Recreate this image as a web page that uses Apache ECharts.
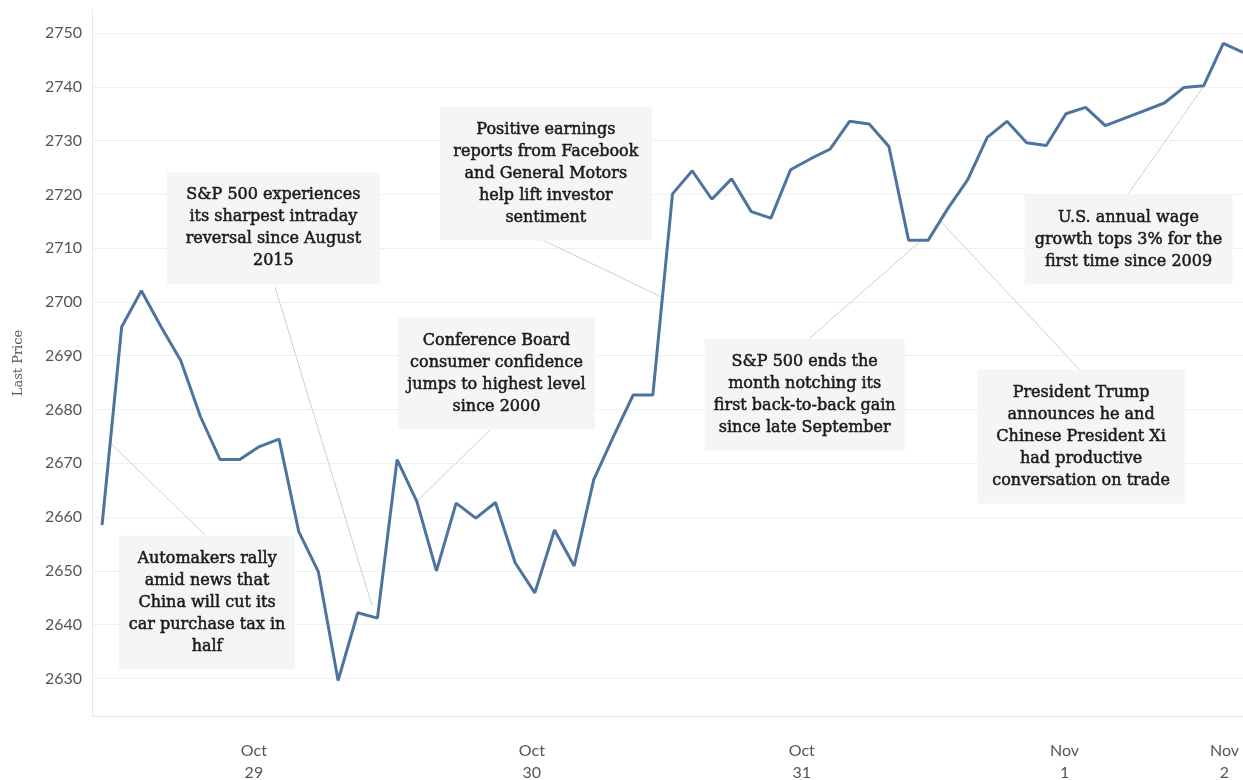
<!DOCTYPE html>
<html>
<head>
    <meta charset="utf-8">
    <script src="https://cdn.jsdelivr.net/npm/echarts@6/dist/echarts.min.js"></script>
    <style>
        html, body { margin: 0; padding: 0; background: #fff; }
        #main { width: 1243px; height: 780px; }
    </style>
</head>
<body>
    <div id="main"></div>
    <script>
        // S&P 500 last price, half-hourly points, Oct 29 - Nov 2
        var prices = [
            2658.5, 2695.4, 2702.1, 2695.4, 2689.1, 2678.7, 2670.7, 2670.7, 2673.1, 2674.5,
            2657.3, 2649.8, 2629.6, 2642.2, 2641.2, 2670.7, 2662.9, 2650.0, 2662.6, 2659.8,
            2662.7, 2651.5, 2645.9, 2657.6, 2650.9, 2667.0, 2675.0, 2682.7, 2682.7, 2720.1,
            2724.4, 2719.1, 2722.9, 2716.8, 2715.6, 2724.6, 2726.6, 2728.4, 2733.6, 2733.1,
            2728.9, 2711.5, 2711.5, 2717.4, 2722.7, 2730.6, 2733.6, 2729.6, 2729.1, 2735.0,
            2736.2, 2732.8, 2734.2, 2735.6, 2737.0, 2739.9, 2740.2, 2748.1, 2746.4
        ];
        var dayLabels = ['Oct\n29', 'Oct\n30', 'Oct\n31', 'Nov\n1', 'Nov\n2'];
        var dayLabelPos = [7.72, 21.85, 35.57, 48.93, 57.06];
        var priceTicks = [2630, 2640, 2650, 2660, 2670, 2680, 2690, 2700, 2710, 2720, 2730, 2740, 2750];

        // annotation boxes: centre [index, price], leader from box to line
        var notes = [
            { text: 'Automakers rally\namid news that\nChina will cut its\ncar purchase tax in\nhalf',
              at: [5.34, 2644.1], w: 176, from: [5.23, 2656.7], to: [0.41, 2673.8] },
            { text: 'S&P 500 experiences\nits sharpest intraday\nreversal since August\n2015',
              at: [8.71, 2713.7], w: 213, from: [8.79, 2702.8], to: [13.72, 2643.6] },
            { text: 'Conference Board\nconsumer confidence\njumps to highest level\nsince 2000',
              at: [20.05, 2686.7], w: 197, from: [19.72, 2676.2], to: [16.0, 2662.9] },
            { text: 'Positive earnings\nreports from Facebook\nand General Motors\nhelp lift investor\nsentiment',
              at: [22.56, 2723.9], w: 212, from: [22.41, 2711.5], to: [28.46, 2700.9] },
            { text: 'S&P 500 ends the\nmonth notching its\nfirst back-to-back gain\nsince late September',
              at: [35.72, 2682.7], w: 200, from: [35.98, 2693.3], to: [41.67, 2711.5] },
            { text: 'President Trump\nannounces he and\nChinese President Xi\nhad productive\nconversation on trade',
              at: [49.77, 2675.0], w: 207, from: [49.7, 2687.4], to: [42.58, 2715.2] },
            { text: 'U.S. annual wage\ngrowth tops 3% for the\nfirst time since 2009',
              at: [52.18, 2711.6], w: 208, from: [52.13, 2719.9], to: [56.0, 2740.1] }
        ];

        var chart = echarts.init(document.getElementById('main'));

        var seriesData = prices.map(function (p, i) { return [i, p]; });

        var option = {
            animation: false,
            grid: { left: 92, right: 0, top: 10, bottom: 64, outerBoundsMode: 'none', containLabel: false },
            xAxis: {
                type: 'value',
                min: -0.51,
                max: 58,
                axisLine: { show: true, onZero: false, lineStyle: { color: '#e8e8e8', width: 1 } },
                axisTick: { show: false },
                splitLine: { show: false },
                axisLabel: {
                    customValues: dayLabelPos,
                    formatter: function (v) {
                        var k = dayLabelPos.indexOf(v);
                        return k >= 0 ? dayLabels[k] : '';
                    },
                    margin: 24,
                    lineHeight: 22,
                    fontSize: 16,
                    fontFamily: 'Lato',
                    color: '#555'
                }
            },
            yAxis: {
                type: 'value',
                min: 2623,
                max: 2754.3,
                name: 'Last Price',
                nameLocation: 'middle',
                nameGap: 67,
                nameTextStyle: { fontFamily: 'DejaVu Serif', fontSize: 13, color: '#555' },
                axisLine: { show: true, onZero: false, lineStyle: { color: '#e8e8e8', width: 1 } },
                axisTick: { show: false, customValues: priceTicks },
                splitLine: { show: true, lineStyle: { color: '#f0f0f0', width: 1 } },
                axisLabel: {
                    customValues: priceTicks,
                    formatter: function (v) { return String(v); },
                    margin: 10,
                    fontSize: 16,
                    fontFamily: 'Lato',
                    color: '#555'
                }
            },
            series: [{
                type: 'line',
                data: seriesData,
                showSymbol: false,
                symbol: 'none',
                lineStyle: { color: '#4e739f', width: 3 },
                z: 3,
                markLine: {
                    silent: true,
                    symbol: ['none', 'none'],
                    z: 2,
                    label: { show: false },
                    lineStyle: { color: '#cfcfcf', width: 1, type: 'solid' },
                    emphasis: { disabled: true },
                    data: notes.map(function (n) {
                        return [{ coord: n.from }, { coord: n.to }];
                    })
                },
                markPoint: {
                    silent: true,
                    z: 10,
                    symbol: 'rect',
                    symbolSize: 0,
                    data: notes.map(function (n) {
                        return {
                            coord: n.at,
                            value: n.text,
                            label: {
                                show: true,
                                position: 'inside',
                                formatter: n.text,
                                width: n.w - 16,
                                align: 'center',
                                backgroundColor: '#f5f5f5',
                                padding: [12, 8, 12, 8],
                                lineHeight: 22,
                                fontSize: 16,
                                fontFamily: 'DejaVu Serif',
                                color: '#1a1a1a',
                                textBorderColor: '#1a1a1a',
                                textBorderWidth: 0.5
                            }
                        };
                    })
                }
            }]
        };

        chart.setOption(option);
    </script>
</body>
</html>
